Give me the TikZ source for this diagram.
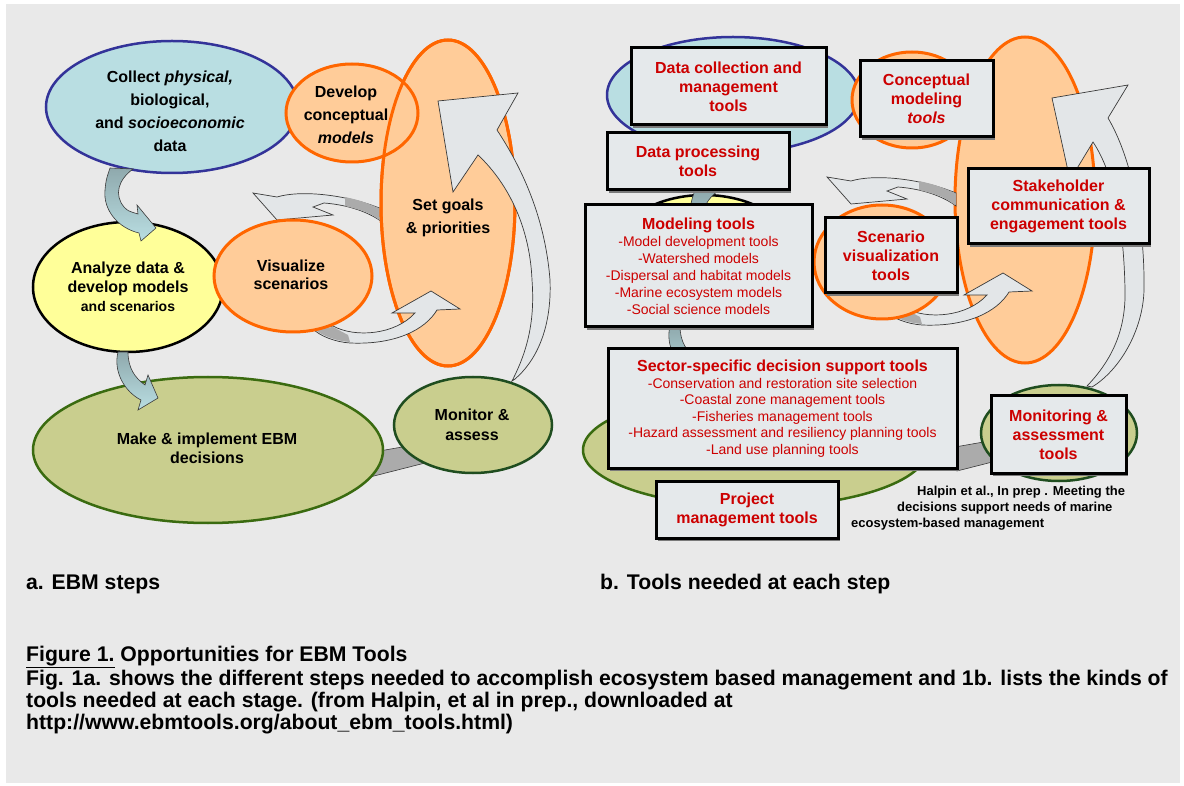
\documentclass[tikz,border=0pt]{standalone}
\usepackage{fontspec}
\setmainfont{Liberation Sans}
\usetikzlibrary{shapes.geometric,shadows}

\definecolor{panelgray}{HTML}{E9E9E9}
\definecolor{bubblue}{HTML}{B9DEE2}
\definecolor{bubnavy}{HTML}{333399}
\definecolor{buborange}{HTML}{FFCC99}
\definecolor{orangeedge}{HTML}{FF6600}
\definecolor{bubyellow}{HTML}{FFFF99}
\definecolor{bubgreen}{HTML}{C9CE8E}
\definecolor{greenedge}{HTML}{3A6B10}
\definecolor{darkgreenedge}{HTML}{1F4D1F}
\definecolor{boxfill}{HTML}{E5E9EB}
\definecolor{toolred}{HTML}{CC0000}
\definecolor{arrowfill}{HTML}{E3E6E8}
\definecolor{arrowedge}{HTML}{3A3A3A}
\definecolor{arrowdark}{HTML}{ABABAB}
\definecolor{steelblue}{HTML}{8FA9AD}
\definecolor{shadowgray}{HTML}{7A7A7A}

\tikzset{
  bubble/.style={ellipse, inner sep=0pt, line width=2.5pt},
  bluebub/.style={bubble, fill=bubblue, draw=bubnavy},
  orangebub/.style={bubble, fill=buborange, draw=orangeedge, line width=3pt},
  yellowbub/.style={bubble, fill=bubyellow, draw=black},
  greenbub/.style={bubble, fill=bubgreen, draw=greenedge},
  toolbox/.style={rectangle, draw=black, line width=3pt, fill=boxfill, inner sep=0pt,
    text=toolred, align=center,
    drop shadow={shadow xshift=2pt, shadow yshift=-3pt, fill=shadowgray, opacity=1}},
  steptext/.style={align=center, font=\fontsize{16}{23}\selectfont\bfseries},
  tooltitle/.style={font=\fontsize{16}{19}\selectfont\bfseries},
  toollist/.style={font=\fontsize{14}{17}\selectfont},
  captext/.style={anchor=west, inner sep=0pt, font=\fontsize{21.2}{24}\selectfont\bfseries},
  citetext/.style={anchor=west, inner sep=0pt, font=\fontsize{13}{15}\selectfont\bfseries},
  wide arrow/.style={fill=arrowfill, draw=arrowedge, line width=0.7pt},
  blue arrow/.style={top color=steelblue, bottom color=bubblue, draw=arrowedge, line width=0.6pt},
  % block arrows, drawn in the coordinates of panel a
  pics/collectarrow/.style={code={
    \draw[blue arrow] (110,168) -- (133,169) .. controls (118,180) and (114,195) .. (124,207)
      .. controls (128,211) .. (138,214) -- (137,205) -- (156,228) -- (141,241) -- (139,233)
      .. controls (118,228) and (103,210) .. (105,190) .. controls (106,180) .. (110,168) -- cycle;
  }},
  pics/analyzearrow/.style={code={
    \draw[blue arrow] (118,352) .. controls (113,372) and (125,392) .. (141,400) -- (138,410)
      -- (158,398) -- (148,375) -- (145,385) .. controls (135,378) and (128,368) .. (128,352) -- cycle;
  }},
  pics/goalsarrow/.style={code={
    \draw[wide arrow] (253,193) -- (277,220) -- (333,215) -- (313,207) -- (324,203)
      .. controls (350,205) and (370,213) .. (382,222) -- (382,209)
      .. controls (345,194) and (300,190) .. (277,197) -- cycle;
    \fill[arrowdark] (345,197) .. controls (362,201) .. (381,209) -- (381,221)
      .. controls (368,212) .. (345,206) -- cycle;
  }},
  pics/scenarrow/.style={code={
    \draw[wide arrow] (392,313) -- (431,291) -- (460,309) -- (437,310)
      .. controls (425,330) and (395,345) .. (350,343) .. controls (335,342) and (320,336) .. (313,329)
      -- (333,326) .. controls (355,338) and (395,335) .. (415,313) -- cycle;
    \fill[arrowdark] (314,329) -- (333,327) .. controls (340,331) .. (348,335) -- (350,342)
      .. controls (335,341) and (321,335) .. (314,329) -- cycle;
  }},
  pics/backband/.style={code={
    \filldraw[fill=arrowdark, draw=arrowedge, line width=0.6pt]
      (368,453) -- (425,443) -- (425,463) -- (370,477) -- cycle;
  }}
}

\begin{document}
\begin{tikzpicture}[x=1pt,y=-1pt]
  \useasboundingbox (0,0) rectangle (1184,786);
  \fill[white] (0,0) rectangle (1184,786);
  \fill[panelgray] (6,4) rectangle (1180,783);

  % ---- a. EBM steps
  \pic at (0,0) {backband};
  \node[bluebub, minimum width=252pt, minimum height=132pt] (collect) at (172,107) {};
  \pic at (0,0) {goalsarrow};
  \node[orangebub, minimum width=134pt, minimum height=326pt] (goals) at (448,203) {};
  \node[orangebub, minimum width=132pt, minimum height=98pt] (develop) at (352,113) {};
  \draw[orangeedge, line width=3pt] (goals.center) ellipse [x radius=67pt, y radius=163pt];
  \pic at (0,0) {scenarrow};
  \node[yellowbub, minimum width=190pt, minimum height=130pt] (analyze) at (128,287) {};
  \node[orangebub, minimum width=158pt, minimum height=112pt] (visualize) at (293,276) {};
  \node[greenbub, minimum width=350pt, minimum height=146pt] (make) at (208,450) {};
  \node[greenbub, draw=darkgreenedge, minimum width=158pt, minimum height=96pt] (monitor) at (473,425) {};
  \pic at (0,0) {collectarrow};
  \pic at (0,0) {analyzearrow};
  \draw[wide arrow] (438,101) -- (518,93) -- (497,130) .. controls (520,165) and (545,215) .. (550,280)
    .. controls (552,330) and (535,362) .. (515,379) -- (512,381) .. controls (528,350) and (535,320) .. (532,280)
    .. controls (530,230) and (510,185) .. (478,155) -- (453,192) -- cycle;

  \node[steptext] (collecttxt) at (170,111) {Collect \textit{physical,}\\ biological,\\ and \textit{socioeconomic}\\ data};
  \node[steptext] (developtxt) at (346,115) {Develop\\ conceptual\\ \textit{models}};
  \node[steptext] (goalstxt) at (448,218) {Set goals\\ \& priorities};
  \node[steptext, font=\fontsize{16}{19}\selectfont\bfseries] (analyzetxt) at (128,287)
    {Analyze data \&\\ develop models\\ {\fontsize{14}{19}\selectfont and scenarios}};
  \node[steptext, font=\fontsize{16}{18}\selectfont\bfseries] (visualizetxt) at (291,275) {Visualize\\ scenarios};
  \node[steptext, font=\fontsize{16}{19}\selectfont\bfseries] (maketxt) at (207,448) {Make \& implement EBM\\ decisions};
  \node[steptext, font=\fontsize{16}{20}\selectfont\bfseries] (monitortxt) at (472,425) {Monitor \&\\ assess};

  % ---- b. Tools needed at each step
  \node[orangebub, minimum width=140pt, minimum height=326pt] (rgoals) at (1025,200) {};
  \node[bluebub, minimum width=252pt, minimum height=116pt] (rcollect) at (733,95) {};
  \node[orangebub, minimum width=120pt, minimum height=96pt] (rdevelop) at (912,100) {};
  \pic at (587,-6) {backband};
  \pic at (574,-16) {goalsarrow};
  \pic at (572,-18) {scenarrow};
  \node[yellowbub, minimum width=190pt, minimum height=130pt] (ranalyze) at (704,260) {};
  \node[orangebub, minimum width=136pt, minimum height=114pt] (rvisualize) at (882,262) {};
  \node[greenbub, minimum width=344pt, minimum height=114pt] (rmake) at (755,450) {};
  \node[greenbub, draw=darkgreenedge, minimum width=156pt, minimum height=96pt] (rmonitor) at (1059,433) {};
  \pic at (585,22) {collectarrow};
  \pic at (552,-26) {analyzearrow};
  \draw[wide arrow] (1052,98) -- (1128,85) -- (1108,118) .. controls (1130,155) and (1145,220) .. (1144,290)
    .. controls (1143,330) and (1120,370) .. (1092,387) -- (1087,386) .. controls (1112,360) and (1126,330) .. (1125,290)
    .. controls (1124,230) and (1115,175) .. (1093,142) -- (1070,180) -- cycle;

  \node[toolbox, tooltitle, minimum width=195pt, minimum height=77pt] (datacoll) at (728.5,86.5)
    {Data collection and\\ management\\ tools};
  \node[toolbox, tooltitle, minimum width=133pt, minimum height=76pt] (concept) at (926.5,99)
    {Conceptual\\ modeling\\ \textit{tools}};
  \node[toolbox, tooltitle, minimum width=182pt, minimum height=57pt] (process) at (698,161.5)
    {Data processing\\ tools};
  \node[toolbox, toollist, minimum width=227pt, minimum height=122pt] (modeling) at (698.5,266)
    {{\fontsize{16}{17}\selectfont\bfseries Modeling tools}\\ -Model development tools\\ -Watershed models\\
     -Dispersal and habitat models\\ -Marine ecosystem models\\ -Social science models};
  \node[toolbox, tooltitle, minimum width=132pt, minimum height=75pt] (scenvis) at (891,255.5)
    {Scenario\\ visualization\\ tools};
  \node[toolbox, tooltitle, minimum width=181pt, minimum height=75pt] (stake) at (1058.5,206.5)
    {Stakeholder\\ communication \&\\ engagement tools};
  \node[toolbox, font=\fontsize{14}{16.5}\selectfont, minimum width=349pt, minimum height=119pt] (sector) at (782.5,408.5)
    {{\fontsize{16}{16.5}\selectfont\bfseries Sector-specific decision support tools}\\
     -Conservation and restoration site selection\\ -Coastal zone management tools\\
     -Fisheries management tools\\ -Hazard assessment and resiliency planning tools\\ -Land use planning tools};
  \node[toolbox, tooltitle, minimum width=135pt, minimum height=77pt] (monitoring) at (1058.5,434.5)
    {Monitoring \&\\ assessment\\ tools};
  \node[toolbox, tooltitle, minimum width=182pt, minimum height=57pt] (project) at (747,509.5)
    {Project\\ management tools};

  \node[citetext] (cite1) at (917,492) {Halpin et al., In prep . Meeting the};
  \node[citetext] (cite2) at (897,508) {decisions support needs of marine};
  \node[citetext] (cite3) at (851,524) {ecosystem-based management};

  % ---- captions
  \node[captext] (capa) at (26,584) {a. EBM steps};
  \node[captext] (capb) at (600,584) {b. Tools needed at each step};
  \node[captext] (fig1) at (26,657) {\underline{Figure 1.} Opportunities for EBM Tools};
  \node[captext] (fig2) at (26,680) {Fig. 1a. shows the different steps needed to accomplish ecosystem based management and 1b. lists the kinds of};
  \node[captext] (fig3) at (26,702) {tools needed at each stage. (from Halpin, et al in prep., downloaded at};
  \node[captext] (fig4) at (26,724) {http://www.ebmtools.org/about\_ebm\_tools.html)};
\end{tikzpicture}
\end{document}
